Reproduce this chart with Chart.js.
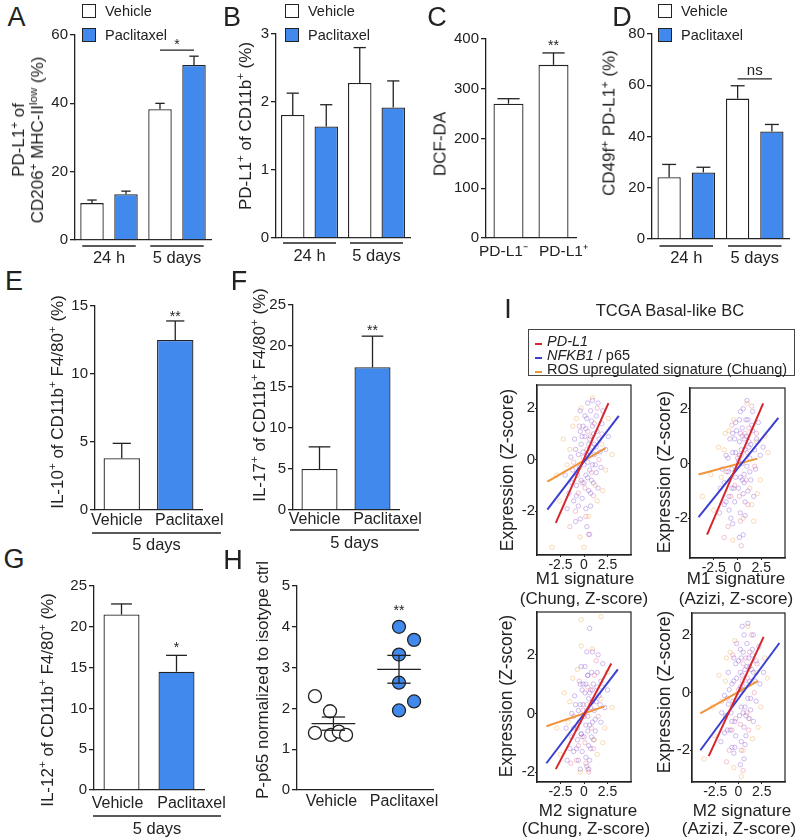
<!DOCTYPE html>
<html>
<head>
<meta charset="utf-8">
<script src="https://cdn.jsdelivr.net/npm/chart.js@4.4.1/dist/chart.umd.min.js"></script>
<style>
  body { margin: 0; width: 800px; height: 840px; position: relative; overflow: hidden; background: #fff;
         font-family: "Liberation Sans", Arial, sans-serif; color: #222; }
  canvas { position: absolute; }
  .t { position: absolute; white-space: nowrap; line-height: 1; text-align: center; transform: translate(-50%, -50%); }
  .t.r { transform: translate(-50%, -50%) rotate(-90deg); }
  .l { position: absolute; white-space: nowrap; line-height: 1; transform: translateY(-50%); }
  sup { font-size: 0.68em; line-height: 0; vertical-align: 0.55em; }
  .box { position: absolute; width: 14px; height: 14px; box-sizing: border-box; border: 1.3px solid #222; }
  #iLegend { position: absolute; left: 528px; top: 329px; width: 267px; height: 47px; box-sizing: border-box;
             border: 1.5px solid #444; padding-top: 4px; font-size: 14.5px; }
  #iLegend div { line-height: 14px; white-space: nowrap; }
  #iLegend span { display: inline-block; width: 7px; height: 2px; margin: 0 5px 0 6px; position: relative; top: -1px; }
</style>
</head>
<body>
<script>
// ---- data ----
const timeGroups = ['24 h', '5 days'];
const treatments = ['Vehicle', 'Paclitaxel'];

// A: PD-L1+ of CD206+ MHC-II low (%)
const aVehicle = [10.8, 38.3];
const aVehicleErr = [0.9, 1.7];
const aPaclitaxel = [13.4, 51.2];
const aPaclitaxelErr = [0.9, 2.6];

// B: PD-L1+ of CD11b+ (%)
const bVehicle = [1.81, 2.28];
const bVehicleErr = [0.32, 0.52];
const bPaclitaxel = [1.64, 1.92];
const bPaclitaxelErr = [0.32, 0.39];

// C: DCF-DA
const cLabels = ['PD-L1⁻', 'PD-L1⁺'];
const cValues = [270, 348];
const cErr = [10, 24];

// D: CD49f+ PD-L1+ (%)
const dVehicle = [24.1, 54.8];
const dVehicleErr = [5.0, 5.0];
const dPaclitaxel = [26.0, 42.0];
const dPaclitaxelErr = [2.0, 2.7];

// E, F, G: 5 days, vehicle vs paclitaxel
const eValues = [3.8, 12.5];
const eErr = [1.1, 1.4];
const fValues = [5.0, 17.4];
const fErr = [2.7, 3.8];
const gValues = [21.5, 14.5];
const gErr = [1.3, 2.0];

// H: P-p65 normalized to isotype ctrl
const hCenters = [0.75, 2.1];
const hVehicle = [2.3, 1.93, 1.4, 1.35, 1.43, 1.35];
const hVehicleJitter = [-0.38, -0.07, -0.38, -0.05, 0.11, 0.26];
const hPaclitaxel = [4.0, 3.68, 3.32, 2.63, 2.17, 1.95];
const hPaclitaxelJitter = [0, 0.31, 0, 0, 0.31, 0];

// I: TCGA basal-like BC
const iXTicks = [-2.5, 0, 2.5];
const iYTicks = [-2, 0, 2];
const iSeries = ['<i>PD-L1</i>', '<i>NFKB1</i> / p65', 'ROS upregulated signature (Chuang)'];

const m1ChungPurple = [[-0.4,1.9],[0.3,1.6],[0.9,1.3],[1.3,1.7],[0.1,0.9],[-0.3,0.6],[0.6,0.3],[1.6,0.8],[-1.2,-0.4],[-0.8,-1.0],[0.2,-0.6],[0.9,-0.2],[-0.2,-1.5],[0.5,-1.2],[-1.6,-1.3],[1.0,1.0],[0.4,2.2],[-0.6,0.2],[0.0,-0.2],[1.9,1.4],[-1.0,0.8],[0.7,-1.8],[-0.4,-2.3],[0.3,-2.6],[1.3,-0.5],[-2.0,-0.6],[2.3,0.4],[0.7,1.9],[-0.1,1.3],[1.1,0.2],[-1.4,0.1],[0.8,-0.8],[-0.7,-0.6],[1.5,-1.1],[-0.9,-2.4],
  [0.2,1.2],[0.6,0.8],[1.1,0.6],[0.4,-0.1],[-0.1,0.3],[0.8,1.5],[1.4,1.1],[0.5,0.6],[-0.5,-0.3],[0.0,-0.9],[0.6,-0.4],[1.2,-0.2],[-0.3,-0.8],[0.2,-1.9],[-1.1,-1.6],[0.9,2.3],[1.7,0.3],[-0.8,-1.4],[0.3,0.2],[1.0,-0.9],[-0.2,0.9],[0.7,-1.3],[-0.6,-1.8],[1.8,-0.3],[-1.3,-0.9],[0.1,1.7],[1.3,0.5],[-0.4,1.1],[0.5,-2.9],[-1.8,-1.9],[2.0,1.9],[1.5,2.2],[-0.9,0.4],[0.4,-0.7],[2.6,0.9]];
const m1ChungPink = [[0.4,1.1],[-0.2,-0.9],[1.4,2.0],[-0.9,-2.0],[0.9,0.5],[0.1,-1.1],[-1.5,-2.6],[0.6,-2.9],[1.6,0.0],[-0.5,1.3],[0.3,0.4],[1.0,-1.4],
  [0.7,0.9],[-0.1,0.1],[1.1,1.4],[-0.6,-1.3],[0.2,-2.2],[1.9,1.0],[-1.1,-0.1],[0.8,-0.5]];
const m1ChungOrange = [[-2.2,0.8],[-1.8,-0.2],[1.9,0.6],[2.3,-0.4],[-0.3,2.0],[0.5,-2.2],[-2.6,-1.6],[1.2,-1.0],[2.6,1.6],[-0.8,1.6],[-3.4,-3.4],[0.0,-3.4],
  [-1.5,0.4],[1.4,-1.6],[0.9,2.4],[-2.9,-0.6],[2.0,-1.2],[-0.4,-3.0],[3.0,0.2],[-1.2,1.3]];
const m1ChungFits = [[[-3.0,-2.45],[2.6,2.2]], [[-3.9,-1.94],[3.7,1.7]], [[-3.9,-0.85],[2.3,0.45]]];

const m1AziziPurple = [[-0.2,1.5],[0.5,1.3],[1.1,1.6],[1.6,1.2],[0.2,0.8],[-0.5,0.4],[0.8,0.5],[1.3,0.2],[-1.0,-0.3],[-0.6,-0.9],[0.3,-0.5],[1.0,-0.1],[-0.3,-1.4],[0.6,-1.1],[-1.4,-1.5],[0.9,1.0],[0.3,1.9],[-0.8,0.9],[0.1,0.1],[2.0,0.9],[-1.2,0.3],[0.8,-1.9],[-0.5,-2.2],[0.2,-2.7],[1.4,-0.6],[-1.8,-0.9],[2.4,0.3],[0.6,2.0],[-0.1,1.2],[1.2,0.6],[-1.6,-0.2],[0.7,-0.7],[-0.9,-1.7],[1.7,-1.2],[-0.2,-0.5],
  [0.3,1.1],[0.7,0.9],[1.2,0.8],[0.5,0.0],[-0.2,0.4],[0.9,1.6],[1.5,1.4],[0.4,0.5],[-0.6,-0.2],[0.1,-0.9],[0.7,-0.4],[1.3,-0.3],[-0.4,-0.9],[0.3,-1.8],[-1.2,-1.4],[1.0,2.3],[1.8,0.5],[-0.9,-1.2],[0.2,0.3],[1.1,-1.0],[-0.3,0.9],[0.8,-1.4],[-0.7,-2.0],[1.9,-0.2],[-1.4,-0.7],[0.2,1.6],[1.4,0.7],[-0.5,1.1],[0.6,-2.6],[-1.9,-1.8],[2.2,1.5],[1.6,1.9],[-1.0,0.2],[0.5,-0.6],[2.7,0.6]];
const m1AziziPink = [[0.5,1.0],[-0.3,-0.8],[1.5,2.1],[-1.0,-2.3],[1.0,0.4],[0.2,-1.2],[-1.4,-2.7],[0.4,-3.0],[1.8,-0.1],[-0.6,1.4],[0.4,0.3],[1.1,-1.5],
  [0.8,1.1],[0.0,0.2],[1.2,1.3],[-0.7,-1.2],[0.3,-2.1],[2.0,1.1],[-1.2,-0.3],[0.9,-0.6]];
const m1AziziOrange = [[-2.0,0.6],[-1.7,-0.5],[2.0,0.8],[2.4,-0.6],[-0.4,1.6],[0.6,-2.0],[-2.5,-1.7],[1.3,-0.9],[2.9,1.0],[-0.9,1.2],[-3.7,-1.2],[1.7,-2.1],
  [-1.4,0.5],[1.5,-1.5],[1.0,2.2],[-2.8,-0.4],[2.1,-1.1],[-0.5,-2.8],[3.2,0.4],[-1.3,1.1]];
const m1AziziFits = [[[-3.2,-2.6],[2.7,2.2]], [[-4.1,-1.96],[4.3,1.67]], [[-4.1,-0.4],[2.1,0.18]]];

const m2ChungPurple = [[-0.3,1.6],[0.4,1.3],[1.0,1.0],[1.4,1.4],[0.1,0.7],[-0.4,0.3],[0.7,0.2],[1.6,0.6],[-1.1,-0.5],[-0.7,-0.9],[0.2,-0.4],[0.9,-0.3],[-0.2,-1.3],[0.5,-1.1],[-1.5,-1.2],[0.9,0.8],[0.3,2.1],[-0.6,0.1],[0.0,-0.1],[1.8,1.1],[-1.0,0.6],[0.6,-1.6],[-0.4,-1.9],[0.3,-1.8],[1.2,-0.6],[-1.9,-0.5],[2.2,0.2],[0.6,2.9],[-0.1,1.0],[1.1,0.1],[-1.3,0.0],[0.8,-0.8],[-0.7,-0.5],[0.4,1.3],[-0.3,-0.7],
  [0.2,1.0],[0.6,0.7],[1.1,0.5],[0.4,-0.1],[-0.1,0.3],[0.8,1.4],[1.4,0.9],[0.5,0.5],[-0.5,-0.3],[0.0,-0.8],[0.6,-0.4],[1.2,-0.2],[-0.3,-0.7],[0.2,-1.5],[-1.1,-1.3],[0.9,2.1],[1.7,0.3],[-0.8,-1.2],[0.3,0.1],[1.0,-0.9],[-0.2,0.8],[0.7,-1.2],[-0.6,-1.6],[1.8,-0.3],[-1.3,-0.8],[0.1,1.6],[1.3,0.4],[-0.4,1.0],[0.5,-1.9],[-1.8,-1.6],[2.0,1.7],[1.5,2.0],[-0.9,0.3],[0.4,-0.6],[2.5,0.8]];
const m2ChungPink = [[0.4,0.9],[-0.2,-0.8],[1.3,1.8],[-0.8,-1.6],[0.9,0.4],[0.1,-1.0],[-1.4,-1.7],[0.5,-2.0],[1.5,-0.1],[-0.5,1.1],[0.3,0.3],[1.0,-1.2],
  [0.7,0.8],[-0.1,0.1],[1.1,1.3],[-0.6,-1.1],[0.2,-1.7],[1.9,0.9],[-1.1,-0.1],[0.8,-0.5]];
const m2ChungOrange = [[-2.1,0.7],[-1.7,-0.3],[1.8,0.5],[2.2,-0.5],[-0.3,2.3],[0.4,-1.9],[-2.5,-1.4],[1.1,-0.9],[2.5,1.4],[-0.7,1.5],[-0.3,3.2],[1.8,3.3],
  [-1.5,0.4],[1.4,-1.4],[0.9,2.2],[-2.9,-0.5],[2.0,-1.0],[-0.4,-2.0],[3.0,0.2],[-1.2,1.2]];
const m2ChungFits = [[[-3.0,-1.9],[2.9,1.7]], [[-4.0,-1.7],[3.6,1.5]], [[-4.0,-0.44],[2.2,0.24]]];

const m2AziziPurple = [[-0.2,1.7],[0.5,1.4],[1.1,1.2],[1.5,1.5],[0.2,0.7],[-0.5,0.4],[0.8,0.3],[1.6,0.7],[-1.1,-0.4],[-0.7,-1.0],[0.3,-0.5],[1.0,-0.2],[-0.3,-1.5],[0.6,-1.2],[-1.5,-1.4],[0.9,0.9],[0.4,2.3],[-0.7,0.3],[0.1,0.0],[1.9,1.1],[-1.1,0.7],[0.7,-1.8],[-0.5,-2.1],[0.2,-2.5],[1.3,-0.6],[-1.8,-0.7],[2.3,0.3],[0.6,2.0],[0.0,1.1],[1.2,0.4],[-1.5,-0.1],[0.8,-0.8],[-0.8,-0.7],[1.6,-1.0],[-0.4,-1.9],
  [0.3,1.2],[0.7,0.8],[1.2,0.9],[0.5,0.1],[-0.2,0.5],[0.9,1.7],[1.5,1.3],[0.4,0.6],[-0.6,-0.3],[0.1,-0.8],[0.7,-0.5],[1.3,-0.2],[-0.4,-1.0],[0.3,-1.7],[-1.2,-1.3],[1.0,2.4],[1.8,0.4],[-0.9,-1.3],[0.2,0.2],[1.1,-0.9],[-0.3,1.0],[0.8,-1.5],[-0.7,-1.9],[1.9,-0.3],[-1.4,-0.8],[0.2,1.5],[1.4,0.8],[-0.5,1.2],[0.6,-2.3],[-1.9,-1.7],[2.2,1.6],[1.6,2.0],[-1.0,0.1],[0.5,-0.7],[2.7,0.7]];
const m2AziziPink = [[0.5,1.0],[-0.3,-0.9],[1.4,2.0],[-1.0,-2.0],[1.0,0.5],[0.2,-1.1],[-1.3,-2.4],[0.5,-2.7],[1.7,0.0],[-0.6,1.3],[0.4,0.4],[1.1,-1.3],
  [0.8,1.2],[0.0,0.1],[1.2,1.4],[-0.7,-1.3],[0.3,-2.0],[2.0,1.0],[-1.2,-0.2],[0.9,-0.7]];
const m2AziziOrange = [[-2.1,0.6],[-1.8,-0.3],[1.9,0.7],[2.4,-0.5],[-0.4,1.8],[0.5,-2.0],[-2.6,-1.5],[1.2,-0.9],[2.8,1.2],[-0.9,1.4],[-3.7,-2.3],[0.3,-2.9],
  [-1.4,0.4],[1.5,-1.6],[1.0,2.3],[-2.8,-0.5],[2.1,-1.2],[-0.5,-2.6],[3.1,0.5],[-1.3,1.2]];
const m2AziziFits = [[[-3.2,-2.2],[2.7,1.93]], [[-4.1,-2.0],[4.4,1.72]], [[-4.1,-0.72],[2.1,0.41]]];

// ---- style ----
const INK = '#222';
const BLUE = '#4189ec';
const FONT = '"Liberation Sans", Arial, sans-serif';
const fitColors = ['#d6262c', '#3b3fd1', '#f0943a'];
const cloudColors = ['rgba(140, 90, 215, 0.5)', 'rgba(225, 90, 130, 0.45)', 'rgba(240, 165, 80, 0.5)'];

Chart.defaults.font.family = FONT;
Chart.defaults.color = INK;
Chart.defaults.animation = false;
Chart.defaults.responsive = false;
Chart.defaults.plugins.legend.display = false;
Chart.defaults.plugins.tooltip.enabled = false;

// ---- helpers ----
function makeCanvas(left, top, width, height) {
    const c = document.createElement('canvas');
    c.width = width;
    c.height = height;
    c.style.left = left + 'px';
    c.style.top = top + 'px';
    document.body.appendChild(c);
    return c;
}

function put(html, cx, cy, size, rot, lh) {
    const d = document.createElement('div');
    d.className = rot ? 't r' : 't';
    d.style.left = cx + 'px';
    d.style.top = cy + 'px';
    d.style.fontSize = size + 'px';
    if (lh) d.style.lineHeight = lh + 'px';
    d.innerHTML = html;
    document.body.appendChild(d);
}

function putLeft(html, x, cy, size) {
    const d = document.createElement('div');
    d.className = 'l';
    d.style.left = x + 'px';
    d.style.top = cy + 'px';
    d.style.fontSize = size + 'px';
    d.innerHTML = html;
    document.body.appendChild(d);
}

function barLegend(x, y) {
    [['#fff', treatments[0]], [BLUE, treatments[1]]].forEach(([fill, name], i) => {
        const b = document.createElement('div');
        b.className = 'box';
        b.style.left = x + 'px';
        b.style.top = (y + i * 24) + 'px';
        b.style.background = fill;
        document.body.appendChild(b);
        putLeft(name, x + 23, y + 7 + i * 24, 14.5);
    });
}

function seg(ctx, x0, y0, x1, y1) {
    ctx.beginPath();
    ctx.moveTo(x0, y0);
    ctx.lineTo(x1, y1);
    ctx.stroke();
}

function word(ctx, s, x, y, size) {
    ctx.font = size + 'px ' + FONT;
    ctx.textAlign = 'center';
    ctx.textBaseline = 'middle';
    ctx.fillText(s, x, y);
}

// error bars, stars, brackets, group lines and x labels for the bar panels
function annotator(cfg) {
    return {
        id: 'annotate',
        afterDatasetsDraw(chart) {
            const ctx = chart.ctx;
            const y = chart.scales.y;
            const bottom = chart.chartArea.bottom;
            const barAt = ([d, i]) => chart.getDatasetMeta(d).data[i];
            const topOf = ([d, i]) => y.getPixelForValue(chart.data.datasets[d].data[i] + cfg.errors[d][i]);
            ctx.save();
            ctx.strokeStyle = INK;
            ctx.fillStyle = INK;
            ctx.lineWidth = 1.3;

            cfg.errors.forEach((errs, d) => errs.forEach((e, i) => {
                const bar = barAt([d, i]);
                const top = topOf([d, i]);
                const half = bar.width * cfg.cap;
                seg(ctx, bar.x, bar.y, bar.x, top);
                seg(ctx, bar.x - half, top, bar.x + half, top);
            }));

            (cfg.stars || []).forEach(s => {
                const bar = barAt(s.bar);
                word(ctx, s.text, bar.x, topOf(s.bar) - s.dy + 3, 14);
            });

            if (cfg.bracket) {
                const b = cfg.bracket;
                const x0 = barAt(b.bars[0]).x, x1 = barAt(b.bars[1]).x;
                const py = y.getPixelForValue(b.value);
                seg(ctx, x0, py, x1, py);
                word(ctx, b.text, (x0 + x1) / 2, py - 8 + b.adj, b.size);
            }

            (cfg.groups || []).forEach(g => {
                const l = barAt(g.bars[0]), r = barAt(g.bars[1]);
                const x0 = l.x - l.width / 2 + cfg.gPad[0];
                const x1 = r.x + r.width / 2 + cfg.gPad[1];
                seg(ctx, x0, bottom + cfg.gLine, x1, bottom + cfg.gLine);
                word(ctx, g.label, (x0 + x1) / 2, bottom + cfg.gText, 16.5);
            });

            if (cfg.xLabels) {
                const xl = cfg.xLabels;
                xl.texts.forEach((s, i) => {
                    word(ctx, s, barAt([0, i]).x + xl.shifts[i], bottom + xl.dy, xl.size);
                });
            }
            ctx.restore();
        }
    };
}

function barPanel(box, datasets, labels, yMax, yStep, bp, cfg) {
    const AXW = 40, PADT = 10, PADR = 40, BOT = 60;
    const canvas = makeCanvas(box.axisX - AXW, box.topY - PADT,
        box.rightX - box.axisX + AXW + PADR, box.zeroY - box.topY + PADT + BOT);
    return new Chart(canvas, {
        type: 'bar',
        data: {
            labels: labels,
            datasets: datasets.map(ds => Object.assign({
                borderColor: INK,
                borderWidth: 1.3,
                categoryPercentage: 1,
                barPercentage: bp
            }, ds))
        },
        options: {
            layout: { padding: { top: PADT, right: PADR, left: 0, bottom: 0 } },
            scales: {
                x: {
                    grid: { display: false },
                    border: { color: INK, width: 1.3 },
                    ticks: { display: false },
                    afterFit: s => { s.height = BOT; }
                },
                y: {
                    min: 0,
                    max: yMax,
                    ticks: { stepSize: yStep, padding: 2, font: { size: 15 }, color: INK },
                    grid: { drawOnChartArea: false, tickLength: 5, color: INK, lineWidth: 1.3 },
                    border: { color: INK, width: 1.3 },
                    afterFit: s => { s.width = AXW; }
                }
            }
        },
        plugins: [annotator(cfg)]
    });
}

function scatterPanel(box, clouds, fits, yMin, yMax) {
    const AXW = 30, PADT = 8, PADR = 6, BOT = 24;
    const canvas = makeCanvas(box.left - AXW, box.top - PADT,
        box.right - box.left + AXW + PADR, box.bottom - box.top + PADT + BOT);
    const toXY = pts => pts.map(([x, y]) => ({ x, y }));
    const lines = fits.map((f, i) => ({
        data: toXY(f), showLine: true, pointRadius: 0, borderColor: fitColors[i], borderWidth: 2
    }));
    const dots = clouds.map((c, i) => ({
        data: toXY(c), pointRadius: 2.2, borderWidth: 0.8,
        borderColor: cloudColors[i], backgroundColor: 'rgba(0,0,0,0)'
    }));
    const tickAxis = (min, max, vals, size, fit) => ({
        type: 'linear',
        min: min,
        max: max,
        afterBuildTicks: s => { s.ticks = vals.map(v => ({ value: v })); },
        ticks: { autoSkip: false, maxRotation: 0, padding: 0, font: { size: size }, color: INK, callback: v => String(v) },
        grid: { drawOnChartArea: false, tickLength: 2, color: INK },
        border: { color: INK, width: 1.2 },
        afterFit: fit
    });
    return new Chart(canvas, {
        type: 'scatter',
        data: { datasets: lines.concat(dots) },
        options: {
            layout: { padding: { top: PADT, right: PADR, left: 0, bottom: 0 } },
            scales: {
                x: tickAxis(-5, 5, iXTicks, 14, s => { s.height = BOT; }),
                y: tickAxis(yMin, yMax, iYTicks, 15, s => { s.width = AXW; })
            }
        },
        plugins: [{
            id: 'frame',
            afterDraw(chart) {
                const a = chart.chartArea, ctx = chart.ctx;
                ctx.save();
                ctx.strokeStyle = INK;
                ctx.lineWidth = 1.2;
                ctx.strokeRect(a.left, a.top, a.right - a.left, a.bottom - a.top);
                ctx.restore();
            }
        }]
    });
}

// ---- A ----
barPanel({ axisX: 75, topY: 34, zeroY: 240, rightX: 211 }, [
    { label: treatments[0], data: aVehicle, backgroundColor: '#fff' },
    { label: treatments[1], data: aPaclitaxel, backgroundColor: BLUE }
], timeGroups, 60, 20, 0.69, {
    errors: [aVehicleErr, aPaclitaxelErr], cap: 0.2,
    bracket: { bars: [[0, 1], [1, 1]], value: 55.6, text: '*', adj: 3, size: 14 },
    groups: timeGroups.map((g, i) => ({ bars: [[0, i], [1, i]], label: g })),
    gPad: [2, -2], gLine: 6, gText: 18
});

// ---- B ----
barPanel({ axisX: 276, topY: 33, zeroY: 238, rightX: 410 }, [
    { label: treatments[0], data: bVehicle, backgroundColor: '#fff' },
    { label: treatments[1], data: bPaclitaxel, backgroundColor: BLUE }
], timeGroups, 3, 1, 0.7, {
    errors: [bVehicleErr, bPaclitaxelErr], cap: 0.26,
    groups: timeGroups.map((g, i) => ({ bars: [[0, i], [1, i]], label: g })),
    gPad: [2, -2], gLine: 5, gText: 18
});

// ---- C ----
barPanel({ axisX: 485.5, topY: 38, zeroY: 238, rightX: 575.5 }, [
    { data: cValues, backgroundColor: '#fff' }
], cLabels, 400, 100, 0.667, {
    errors: [cErr], cap: 0.37,
    stars: [{ bar: [0, 1], text: '**', dy: 10 }],
    xLabels: { texts: cLabels, shifts: [-5, 10], dy: 14, size: 15.5 }
});

// ---- D ----
barPanel({ axisX: 652, topY: 33, zeroY: 239, rightX: 789 }, [
    { label: treatments[0], data: dVehicle, backgroundColor: '#fff' },
    { label: treatments[1], data: dPaclitaxel, backgroundColor: BLUE }
], timeGroups, 80, 20, 0.68, {
    errors: [dVehicleErr, dPaclitaxelErr], cap: 0.3,
    bracket: { bars: [[0, 1], [1, 1]], value: 62.5, text: 'ns', adj: 0, size: 15 },
    groups: timeGroups.map((g, i) => ({ bars: [[0, i], [1, i]], label: g })),
    gPad: [2, -2], gLine: 7, gText: 19
});

// ---- E, F, G ----
const fiveDays = [{ bars: [[0, 0], [0, 1]], label: timeGroups[1] }];
barPanel({ axisX: 95, topY: 305, zeroY: 510, rightX: 202 }, [
    { data: eValues, backgroundColor: ['#fff', BLUE] }
], treatments, 15, 5, 0.68, {
    errors: [eErr], cap: 0.25,
    stars: [{ bar: [0, 1], text: '**', dy: 7 }],
    xLabels: { texts: treatments, shifts: [-5, 14], dy: 11, size: 16 },
    groups: fiveDays, gPad: [-11.5, 27.5], gLine: 23, gText: 35
});
barPanel({ axisX: 293, topY: 304, zeroY: 510, rightX: 399 }, [
    { data: fValues, backgroundColor: ['#fff', BLUE] }
], treatments, 25, 5, 0.68, {
    errors: [fErr], cap: 0.3,
    stars: [{ bar: [0, 1], text: '**', dy: 8 }],
    xLabels: { texts: treatments, shifts: [-5, 15], dy: 10, size: 16 },
    groups: fiveDays, gPad: [-11.5, 28.5], gLine: 20, gText: 33
});
barPanel({ axisX: 94, topY: 585, zeroY: 790, rightX: 204 }, [
    { data: gValues, backgroundColor: ['#fff', BLUE] }
], treatments, 25, 5, 0.655, {
    errors: [gErr], cap: 0.29,
    stars: [{ bar: [0, 1], text: '*', dy: 10 }],
    xLabels: { texts: treatments, shifts: [-4, 15], dy: 14, size: 16 },
    groups: fiveDays, gPad: [-10.5, 26.5], gLine: 26, gText: 39
});

// ---- H ----
const mean = a => a.reduce((s, v) => s + v, 0) / a.length;
const sem = a => {
    const m = mean(a);
    return Math.sqrt(a.reduce((s, v) => s + (v - m) ** 2, 0) / (a.length - 1) / a.length);
};
const hGroups = [hVehicle, hPaclitaxel];
new Chart(makeCanvas(297 - 40, 585 - 10, 136 + 80, 205 + 70), {
    type: 'scatter',
    data: {
        datasets: [
            { data: hVehicle.map((v, i) => ({ x: hCenters[0] + hVehicleJitter[i], y: v })),
              backgroundColor: '#fff', borderColor: INK, borderWidth: 1.3, pointRadius: 6.5 },
            { data: hPaclitaxel.map((v, i) => ({ x: hCenters[1] + hPaclitaxelJitter[i], y: v })),
              backgroundColor: BLUE, borderColor: INK, borderWidth: 1.3, pointRadius: 6.5 }
        ]
    },
    options: {
        layout: { padding: { top: 10, right: 40, left: 0, bottom: 0 } },
        scales: {
            x: { type: 'linear', min: 0, max: 2.8, ticks: { display: false }, grid: { display: false },
                 border: { color: INK, width: 1.3 }, afterFit: s => { s.height = 60; } },
            y: { min: 0, max: 5, ticks: { stepSize: 1, padding: 2, font: { size: 15 }, color: INK },
                 grid: { drawOnChartArea: false, tickLength: 5, color: INK, lineWidth: 1.3 },
                 border: { color: INK, width: 1.3 }, afterFit: s => { s.width = 40; } }
        }
    },
    plugins: [{
        id: 'meanSem',
        afterDatasetsDraw(chart) {
            const ctx = chart.ctx, x = chart.scales.x, y = chart.scales.y;
            const bottom = chart.chartArea.bottom;
            ctx.save();
            ctx.strokeStyle = INK;
            ctx.fillStyle = INK;
            ctx.lineWidth = 1.3;
            hGroups.forEach((vals, g) => {
                const m = mean(vals), e = sem(vals);
                const cx = x.getPixelForValue(hCenters[g]);
                const half = x.getPixelForValue(hCenters[g] + 0.45) - cx;
                const cap = x.getPixelForValue(hCenters[g] + 0.24) - cx;
                seg(ctx, cx - half, y.getPixelForValue(m), cx + half, y.getPixelForValue(m));
                seg(ctx, cx, y.getPixelForValue(m - e), cx, y.getPixelForValue(m + e));
                seg(ctx, cx - cap, y.getPixelForValue(m - e), cx + cap, y.getPixelForValue(m - e));
                seg(ctx, cx - cap, y.getPixelForValue(m + e), cx + cap, y.getPixelForValue(m + e));
            });
            word(ctx, '**', x.getPixelForValue(hCenters[1]), y.getPixelForValue(4.45) + 3, 14);
            const shifts = [-2, 5];
            treatments.forEach((s, i) => word(ctx, s, x.getPixelForValue(hCenters[i]) + shifts[i], bottom + 12, 16));
            seg(ctx, 307, bottom + 22, 435, bottom + 22);
            word(ctx, timeGroups[1], 369, bottom + 35, 16.5);
            ctx.restore();
        }
    }]
});

// ---- I ----
scatterPanel({ left: 537, top: 384, right: 631, bottom: 555 },
    [m1ChungPurple, m1ChungPink, m1ChungOrange], m1ChungFits, -3.7, 2.9);
scatterPanel({ left: 690, top: 387, right: 785, bottom: 558 },
    [m1AziziPurple, m1AziziPink, m1AziziOrange], m1AziziFits, -3.45, 2.76);
scatterPanel({ left: 537, top: 611, right: 631, bottom: 782 },
    [m2ChungPurple, m2ChungPink, m2ChungOrange], m2ChungFits, -2.34, 3.46);
scatterPanel({ left: 692, top: 612, right: 785, bottom: 782 },
    [m2AziziPurple, m2AziziPink, m2AziziOrange], m2AziziFits, -3.1, 2.76);

// ---- text ----
[['A', 16.5, 17], ['B', 232, 17], ['C', 437, 17], ['D', 622, 17], ['E', 14, 281],
 ['F', 239, 281], ['G', 14, 559], ['H', 233, 560], ['I', 508, 309]]
    .forEach(([s, x, y]) => put(s, x, y, 27));

barLegend(82, 4);
barLegend(285, 4);
barLegend(658, 4);

put('PD-L1<sup>+</sup> of<br>CD206<sup>+</sup> MHC-II<sup>low</sup> (%)', 28, 140, 17, true, 19);
put('PD-L1<sup>+</sup> of CD11b<sup>+</sup> (%)', 245, 126, 17, true);
put('DCF-DA', 440, 144, 17, true);
put('CD49f<sup>+</sup> PD-L1<sup>+</sup> (%)', 609, 123, 17, true);
put('IL-10<sup>+</sup> of CD11b<sup>+</sup> F4/80<sup>+</sup> (%)', 57, 402, 17, true);
put('IL-17<sup>+</sup> of CD11b<sup>+</sup> F4/80<sup>+</sup> (%)', 259, 395, 17, true);
put('IL-12<sup>+</sup> of CD11b<sup>+</sup> F4/80<sup>+</sup> (%)', 47, 700, 17, true);
put('P-p65 normalized to isotype ctrl', 262, 680, 17, true);

put('TCGA Basal-like BC', 670, 310, 16.5);
const leg = document.createElement('div');
leg.id = 'iLegend';
leg.innerHTML = iSeries.map((s, i) => '<div><span style="background:' + fitColors[i] + '"></span>' + s + '</div>').join('');
document.body.appendChild(leg);

[[508, 470], [665, 472], [507, 696], [665, 692]]
    .forEach(([x, y]) => put('Expression (Z-score)', x, y, 17.5, true));
put('M1 signature', 585, 578, 17);
put('(Chung, Z-score)', 584, 598, 17);
put('M1 signature', 736, 578, 17);
put('(Azizi, Z-score)', 736, 598, 17);
put('M2 signature', 588, 810, 17);
put('(Chung, Z-score)', 586, 828, 17);
put('M2 signature', 742, 810, 17);
put('(Azizi, Z-score)', 739, 828, 17);
</script>
</body>
</html>
